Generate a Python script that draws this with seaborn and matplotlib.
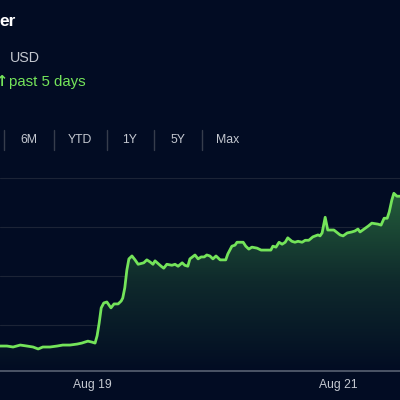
import numpy as np
import pandas as pd
import matplotlib
matplotlib.use('Agg')
import matplotlib.pyplot as plt
import matplotlib.dates as mdates
from matplotlib.colors import LinearSegmentedColormap
from matplotlib.lines import Line2D
import seaborn as sns

# hours since Aug 18 00:00 and price
hours = [6.0, 7.4, 8.6, 10.0, 11.3, 12.5, 13.5, 14.4, 15.8, 17.2, 18.3, 19.7, 21.1, 22.0,
         23.2, 24.0, 24.6, 25.0, 25.4, 25.8, 26.3, 26.9, 27.7, 28.3, 29.1, 29.7, 30.0, 30.4,
         30.8, 31.2, 31.8, 32.4, 33.0, 34.1, 34.7, 35.3, 35.9, 36.3, 37.5, 38.0, 38.6, 39.6,
         40.2, 40.8, 41.6, 42.1, 42.7, 43.1, 44.1, 44.7, 45.3, 45.9, 46.4, 47.0, 47.6, 48.2,
         49.0, 50.1, 50.5, 51.3, 51.9, 52.3, 53.5, 54.0, 54.6, 55.2, 56.2, 57.0, 58.3, 58.9,
         59.3, 59.9, 60.5, 61.1, 61.7, 62.2, 63.0, 63.6, 64.2, 65.0, 65.6, 66.3, 67.1, 68.1,
         68.5, 68.9, 69.5, 70.0, 71.2, 72.4, 73.0, 73.8, 74.7, 75.3, 75.9, 76.3, 77.1, 77.9,
         78.6, 79.8, 80.4, 81.0, 81.6, 82.0, 82.5, 82.9, 83.5, 84.1]
prices = [95.7, 95.7, 95.5, 95.9, 95.7, 95.5, 95.1, 95.5, 95.5, 95.7, 95.9, 95.9, 96.1, 96.3,
          96.7, 96.5, 96.3, 97.8, 100.4, 103.5, 104.5, 104.7, 103.5, 104.3, 104.3, 104.9, 105.5, 107.6,
          111.2, 113.5, 114.1, 113.3, 112.4, 112.7, 113.3, 112.9, 112.4, 113.1, 112.0, 111.6, 112.4, 112.2,
          112.4, 112.0, 112.7, 112.2, 112.0, 113.5, 114.3, 113.5, 113.9, 113.9, 114.3, 114.1, 113.5, 114.1,
          113.3, 113.3, 114.5, 116.1, 116.3, 116.9, 116.9, 116.1, 115.5, 115.9, 115.7, 115.3, 115.3, 115.3,
          116.1, 115.9, 116.9, 116.5, 116.9, 117.8, 117.1, 116.9, 117.1, 116.9, 117.3, 117.3, 118.0, 118.4,
          118.2, 118.8, 122.0, 119.4, 119.4, 118.4, 118.2, 118.8, 119.0, 119.2, 119.6, 119.0, 119.6, 120.2,
          120.8, 120.6, 120.4, 121.8, 121.8, 123.1, 125.5, 126.9, 126.3, 126.3]
range_buttons = ['6M', 'YTD', '1Y', '5Y', 'Max']

start = pd.Timestamp('2024-08-18')
df = pd.DataFrame({'time': start + pd.to_timedelta(hours, unit='h'), 'price': prices})

BG = '#020c23'
GREEN = '#74e45a'
TXT = '#c4c8d0'

sns.set_style('dark', {'axes.facecolor': BG, 'figure.facecolor': BG})
plt.rcParams['font.family'] = ['Liberation Sans', 'DejaVu Sans']

fig = plt.figure(figsize=(4, 4), dpi=100)
ax = fig.add_axes([0, 0.0725, 1, 0.5275])
ax.set_facecolor(BG)

sns.lineplot(data=df, x='time', y='price', ax=ax, color=GREEN, linewidth=2.0, zorder=3)

# gradient fill under the line
ymin, ymax = 90.6, 133.7
xnum = mdates.date2num(df['time'])
poly = ax.fill_between(df['time'], df['price'], ymin, color='none', lw=0)
cmap = LinearSegmentedColormap.from_list('fade', [BG, '#0f2a2c', '#245e3b'])
grad = np.linspace(0, 1, 256).reshape(-1, 1)
im = ax.imshow(grad, extent=[xnum.min(), xnum.max(), ymin, 127.5], origin='lower',
               aspect='auto', cmap=cmap, zorder=2)
im.set_clip_path(poly.get_paths()[0], transform=ax.transData)

ax.set_xlim(mdates.date2num(start + pd.Timedelta(hours=6.05)),
            mdates.date2num(start + pd.Timedelta(hours=84.1)))
ax.set_ylim(ymin, ymax)
ax.set_yticks([100, 110, 120, 130])
ax.set_yticklabels([])
ax.tick_params(axis='y', length=0)
ax.grid(axis='y', color='#1c2436', linewidth=0.8)
ax.grid(axis='x', visible=False)

ax.xaxis.set_major_locator(mdates.DayLocator(bymonthday=[19, 21]))
ax.xaxis.set_major_formatter(mdates.DateFormatter('%b %d'))
ax.tick_params(axis='x', colors='#4c5466', labelcolor=TXT, length=3.5, width=1,
               direction='out', labelsize=8.7, pad=2.5)
ax.set_xlabel('')
ax.set_ylabel('')
for side in ['top', 'left', 'right']:
    ax.spines[side].set_visible(False)
ax.spines['bottom'].set_color('#4c5466')
ax.spines['bottom'].set_linewidth(1.4)

# header texts
fig.text(-0.002, 0.935, 'er', color='white', fontsize=12.5, fontweight='bold', va='baseline')
fig.text(0.025, 0.845, 'USD', color=TXT, fontsize=10.3, va='baseline')
fig.text(0.003, 0.785, '↑', color=GREEN, fontsize=10.5, fontweight='bold', ha='center',
         va='baseline', family=['DejaVu Sans'])
fig.text(0.022, 0.785, 'past 5 days', color=GREEN, fontsize=10.8, va='baseline')

# range buttons
btn_x = [29, 80, 130, 178, 228]
sep_x = [4, 54, 107, 154, 202]
for bx, label in zip(btn_x, range_buttons):
    fig.text(bx / 400, 1 - 140 / 400, label, color=TXT, fontsize=8.8, ha='center', va='center')
for sx in sep_x:
    fig.add_artist(Line2D([sx / 400, sx / 400], [1 - 130 / 400, 1 - 150 / 400],
                          color='#363d4c', linewidth=1))

fig.savefig('out.png', dpi=100, facecolor=BG)
